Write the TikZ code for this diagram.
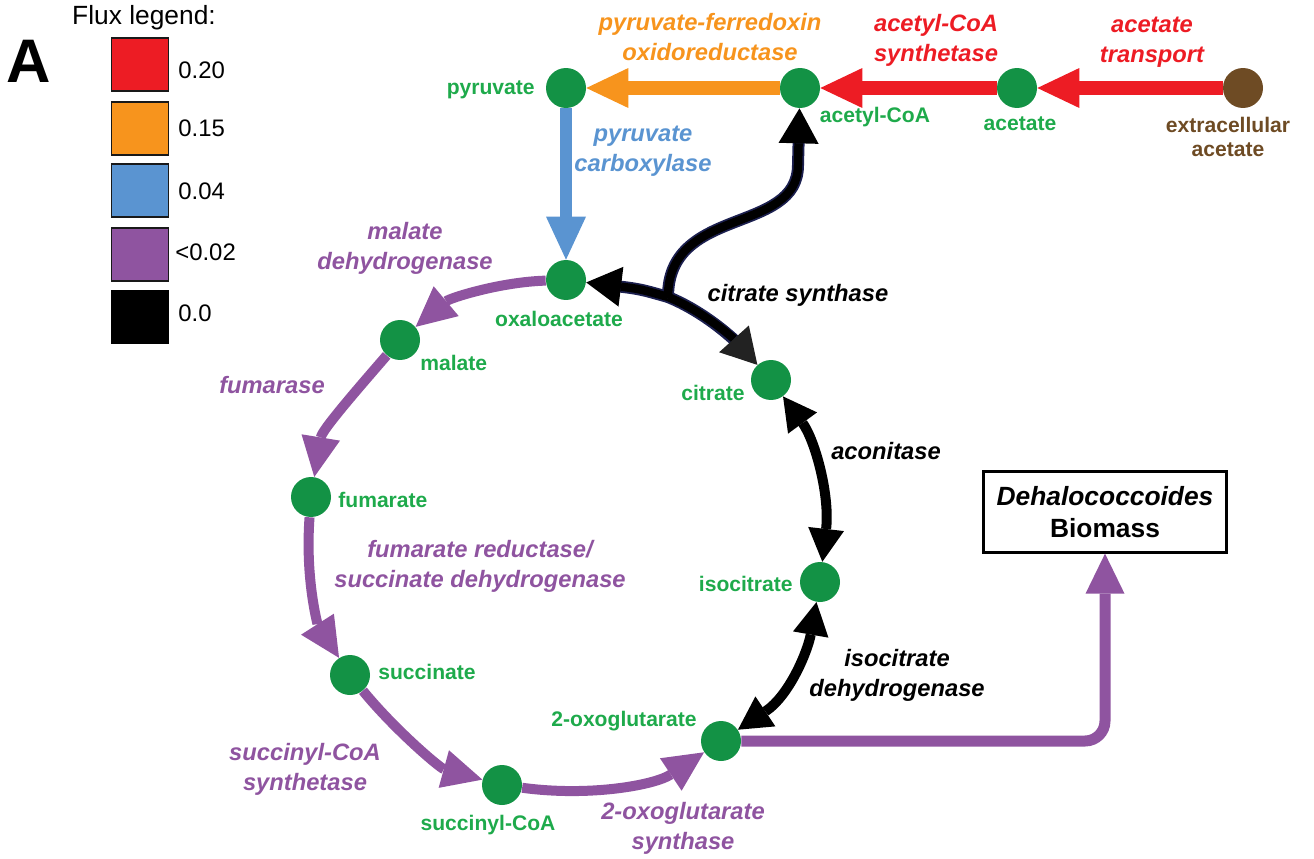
\documentclass[tikz,border=0pt]{standalone}
\usepackage{fontspec}
\setmainfont{Liberation Sans}
\usetikzlibrary{arrows.meta}
\definecolor{cred}{HTML}{ED1C24}
\definecolor{corange}{HTML}{F7941D}
\definecolor{cblue}{HTML}{5A94D1}
\definecolor{cpurple}{HTML}{8F54A0}
\definecolor{cgreen}{HTML}{139245}
\definecolor{lgreen}{HTML}{1EAA4B}
\definecolor{cbrown}{HTML}{6E4B24}
\definecolor{cnavy}{HTML}{1C2050}
\definecolor{chead}{HTML}{222222}
\tikzset{
  met/.style={circle, fill=cgreen, minimum size=0.8cm, inner sep=0pt},
  mlab/.style={text=lgreen, font=\bfseries\fontsize{12}{13.6}\selectfont, inner sep=0pt, align=center},
  enz/.style={font=\bfseries\itshape\fontsize{13.5}{17}\selectfont, align=center, inner sep=0pt},
  legsq/.style={draw=black!90, line width=1.1pt, minimum width=1.14cm, minimum height=1.06cm, inner sep=0pt},
  legtxt/.style={font=\fontsize{13.6}{15}\selectfont, anchor=west, inner sep=0pt},
  bigflux/.style={line width=0.28cm, -{Triangle[length=0.84cm,width=0.8cm,line width=0pt]}},
  blueflux/.style={line width=0.24cm, cblue, -{Triangle[length=0.86cm,width=0.8cm,line width=0pt]}},
  pflux/.style={line width=0.2cm, cpurple, -{Triangle[length=0.8cm,width=0.78cm,line width=0pt]}},
  blkflux/.style={line width=0.2cm, black, {Triangle[length=0.66cm,width=0.72cm,line width=0pt]}-{Triangle[length=0.66cm,width=0.72cm,line width=0pt]}},
  csunder/.style={line width=0.24cm, cnavy},
  csover/.style={line width=0.17cm, black, -{Triangle[length=0.7cm,width=0.8cm,line width=0pt]}},
}
\begin{document}
\begin{tikzpicture}[x=0.02cm,y=-0.02cm]
\useasboundingbox (0,0) rectangle (1314,858);

% panel letter and legend
\node[font=\bfseries\fontsize{35}{35}\selectfont, inner sep=0pt] (panA) at (29,61) {A};
\node[font=\fontsize{15}{17}\selectfont, inner sep=0pt] (legt) at (144,18) {Flux legend:};
\node[legsq, fill=cred] (l1) at (140,64.5) {};
\node[legsq, fill=corange] (l2) at (140,128.5) {};
\node[legsq, fill=cblue] (l3) at (140,190.5) {};
\node[legsq, fill=cpurple] (l4) at (140,254.5) {};
\node[legsq, fill=black, draw=black] (l5) at (140,317) {};
\node[legtxt] (t1) at (178,70) {0.20};
\node[legtxt] (t2) at (178,128) {0.15};
\node[legtxt] (t3) at (178,191) {0.04};
\node[legtxt] (t4) at (175,252) {<0.02};
\node[legtxt] (t5) at (178,313) {0.0};

% metabolites
\node[met] (pyr) at (566,88) {};
\node[met] (acoa) at (800,88) {};
\node[met] (ace) at (1017,88) {};
\node[met, fill=cbrown] (ext) at (1243,88) {};
\node[met] (oxa) at (566,280) {};
\node[met] (mal) at (400,340) {};
\node[met] (cit) at (771,380) {};
\node[met] (fum) at (311,497) {};
\node[met] (iso) at (820,582) {};
\node[met] (suc) at (350,675) {};
\node[met] (oxg) at (721,741) {};
\node[met] (scoa) at (502,785) {};

\node[draw, line width=1.3pt, minimum width=4.86cm, minimum height=1.62cm, inner sep=0pt,
      font=\bfseries\fontsize{15}{18}\selectfont, align=center] (box) at (1105,512)
      {\itshape Dehalococcoides\\Biomass};

% metabolite labels
\node[mlab, anchor=east] (lpyr) at (535,90) {pyruvate};
\node[mlab] (lacoa) at (875,117) {acetyl-CoA};
\node[mlab] (lace) at (1020,124) {acetate};
\node[mlab, text=cbrown] (lext) at (1228,137) {extracellular\\acetate};
\node[mlab] (loxa) at (559,319) {oxaloacetate};
\node[mlab, anchor=west] (lmal) at (420,363) {malate};
\node[mlab, anchor=east] (lcit) at (745,393) {citrate};
\node[mlab, anchor=west] (lfum) at (338,500) {fumarate};
\node[mlab, anchor=east] (liso) at (793,584) {isocitrate};
\node[mlab, anchor=west] (lsuc) at (378,672) {succinate};
\node[mlab, anchor=east] (loxg) at (697,721) {2-oxoglutarate};
\node[mlab] (lscoa) at (488,825) {succinyl-CoA};

% enzyme labels
\node[enz, text=corange] (e1) at (710,37) {pyruvate-ferredoxin\\oxidoreductase};
\node[enz, text=cred] (e2) at (936,40) {acetyl-CoA\\synthetase};
\node[enz, text=cred] (e3) at (1152,42) {acetate\\transport};
\node[enz, text=cblue] (e4) at (643,151) {pyruvate\\carboxylase};
\node[enz, text=cpurple] (e5) at (405,248) {malate\\dehydrogenase};
\node[enz] (e6) at (798,295) {citrate synthase};
\node[enz, text=cpurple] (e7) at (272,385) {fumarase};
\node[enz] (e8) at (886,451) {aconitase};
\node[enz, text=cpurple] (e9) at (480,566) {fumarate reductase/\\succinate dehydrogenase};
\node[enz] (e10) at (897,675) {isocitrate\\dehydrogenase};
\node[enz, text=cpurple] (e11) at (305,769) {succinyl-CoA\\synthetase};
\node[enz, text=cpurple] (e12) at (683,828) {2-oxoglutarate\\synthase};

% high fluxes
\draw[bigflux, corange] (acoa) -- (pyr);
\draw[bigflux, cred] (ace) -- (acoa);
\draw[bigflux, cred] (ext) -- (ace);
\draw[blueflux] (pyr) -- (oxa);

% citrate synthase (Y-shaped)
\coordinate (J) at (668,297);
\draw[csunder, shorten >=0.5cm] (J) .. controls (640,289) .. (oxa);
\draw[csunder, shorten >=0.5cm] (J) .. controls (705,312) and (735,340) .. (cit);
\draw[csunder, shorten >=0.5cm] (J) .. controls (668,205) and (798,235) .. (798,165) -- (acoa);
\draw[csover] (J) .. controls (640,289) .. (oxa);
\draw[csover, -{Triangle[length=0.7cm,width=0.8cm,line width=0pt,fill=chead]}] (J) .. controls (705,312) and (735,340) .. (cit);
\draw[csover] (J) .. controls (668,205) and (798,235) .. (798,165) -- (acoa);

% reversible zero fluxes
\draw[blkflux] (cit) .. controls (815,440) and (830,495) .. (iso);
\draw[blkflux] (iso) .. controls (808,650) and (790,695) .. (oxg);

% small fluxes
\draw[pflux] (oxa) .. controls (500,282) and (450,298) .. (mal);
\draw[pflux] (mal) .. controls (355,392) and (322,430) .. (fum);
\draw[pflux] (fum) .. controls (305,580) and (318,625) .. (suc);
\draw[pflux] (suc) .. controls (395,730) and (440,768) .. (scoa);
\draw[pflux] (scoa) .. controls (590,797) and (655,785) .. (oxg);
\draw[pflux, line width=0.22cm, rounded corners=0.4cm] (oxg.east) -| (box.south);
\end{tikzpicture}
\end{document}
